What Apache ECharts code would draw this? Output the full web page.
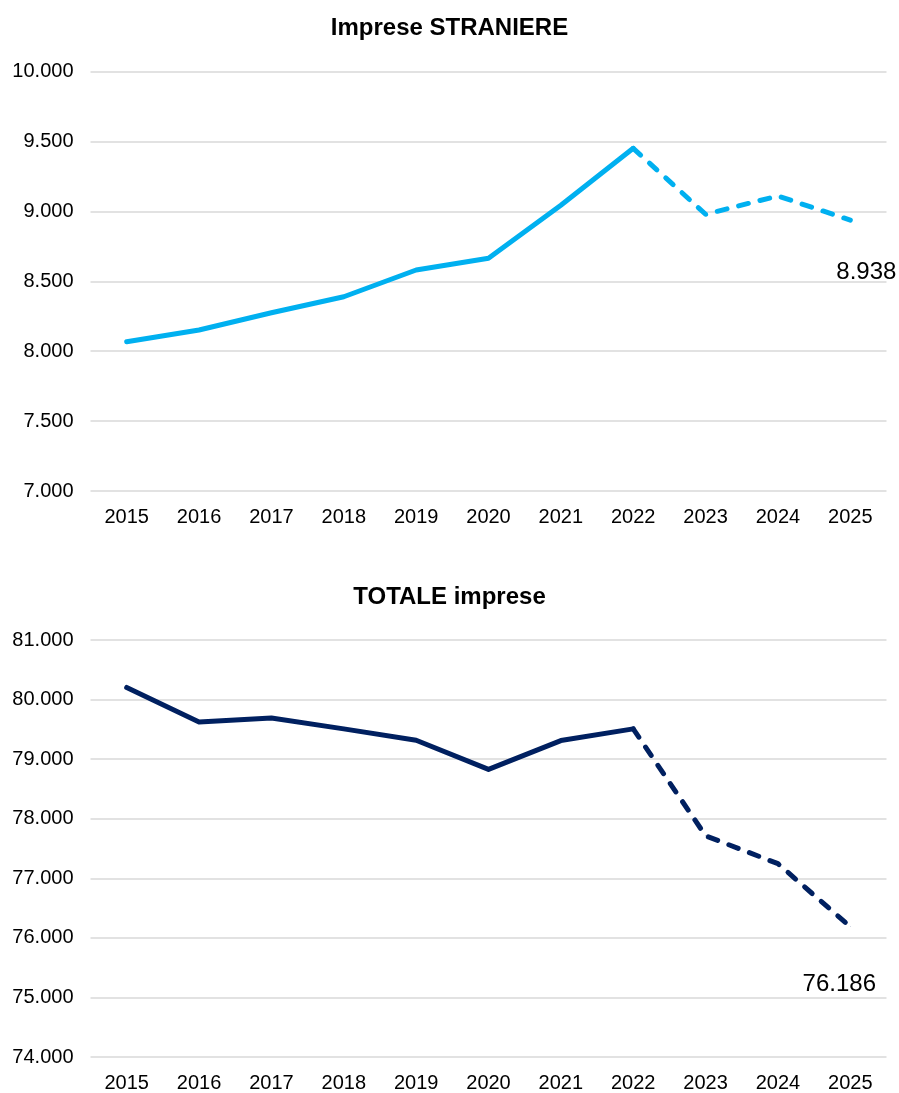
<!DOCTYPE html>
<html>
<head>
<meta charset="utf-8">
<script src="https://cdn.jsdelivr.net/npm/echarts@6/dist/echarts.min.js"></script>
<style>
  html, body { margin: 0; padding: 0; background: #fff; }
  #chart { width: 899px; height: 1093px; }
</style>
</head>
<body>
<div id="chart"></div>
<script>
// Years on the category axis
const years = ['2015', '2016', '2017', '2018', '2019', '2020', '2021', '2022', '2023', '2024', '2025'];
// Foreign-owned firms
const foreignFirms = [8068, 8152, 8275, 8390, 8581, 8665, 9045, 9452, 8980, 9111, 8938];
// All firms
const totalFirms = [80203, 79625, 79692, 79508, 79318, 78828, 79312, 79508, 77714, 77245, 76186];
// Index of the last year drawn with a solid line; later years are dashed
const solidUntil = 7;

const FONT = 'Liberation Sans, Arial, sans-serif';
const fmt = v => String(Math.round(v)).replace(/\B(?=(\d{3})+(?!\d))/g, '.');

function solidPart(arr) {
  return arr.map((v, i) => (i <= solidUntil ? v : null));
}
function dashedPart(arr, labelOffset) {
  return arr.map((v, i) => {
    if (i < solidUntil) return null;
    if (i === arr.length - 1) {
      return {
        value: v,
        label: {
          show: true,
          position: 'bottom',
          distance: 0,
          offset: labelOffset,
          formatter: p => fmt(p.value),
          fontFamily: FONT,
          fontSize: 24,
          color: '#000'
        }
      };
    }
    return v;
  });
}

function yAxis(gridIndex, min, max, interval) {
  return {
    type: 'value', gridIndex, min, max, interval,
    axisLine: { show: false },
    axisTick: { show: false },
    axisLabel: { formatter: fmt, fontFamily: FONT, fontSize: 20, color: '#000', margin: 17 },
    splitLine: { lineStyle: { color: '#d9d9d9', width: 1.5 } }
  };
}
function xAxis(gridIndex) {
  return {
    type: 'category', gridIndex, data: years, boundaryGap: true,
    axisLine: { show: false },
    axisTick: { show: false },
    axisLabel: { fontFamily: FONT, fontSize: 20, color: '#000', margin: 16 }
  };
}
function lineSeries(idx, data, color, dashed) {
  return {
    type: 'line', xAxisIndex: idx, yAxisIndex: idx, data,
    symbol: 'circle', symbolSize: 0.5, showSymbol: true,
    itemStyle: { color },
    lineStyle: dashed
      ? { color, width: 5, type: [10, 12], cap: 'round', join: 'round' }
      : { color, width: 5, cap: 'round', join: 'round' },
    connectNulls: false,
    silent: true,
    animation: false,
    z: 3
  };
}

const chart = echarts.init(document.getElementById('chart'), null, { renderer: 'canvas' });
chart.setOption({
  animation: false,
  title: [
    { text: 'Imprese STRANIERE', left: 'center', top: 11,
      textStyle: { fontFamily: FONT, fontSize: 24, fontWeight: 'bold', color: '#000' } },
    { text: 'TOTALE imprese', left: 'center', top: 580,
      textStyle: { fontFamily: FONT, fontSize: 24, fontWeight: 'bold', color: '#000' } }
  ],
  grid: [
    { left: 90.5, right: 12.5, top: 71.7, height: 419.3 },
    { left: 90.5, right: 12.5, top: 640, height: 419 }
  ],
  xAxis: [xAxis(0), xAxis(1)],
  yAxis: [yAxis(0, 7000, 10000, 500), yAxis(1, 74000, 81000, 1000)],
  series: [
    lineSeries(0, solidPart(foreignFirms), '#00b0f0', false),
    lineSeries(0, dashedPart(foreignFirms, [16, 40]), '#00b0f0', true),
    lineSeries(1, solidPart(totalFirms), '#002060', false),
    lineSeries(1, dashedPart(totalFirms, [-11, 45]), '#002060', true)
  ]
});
</script>
</body>
</html>
